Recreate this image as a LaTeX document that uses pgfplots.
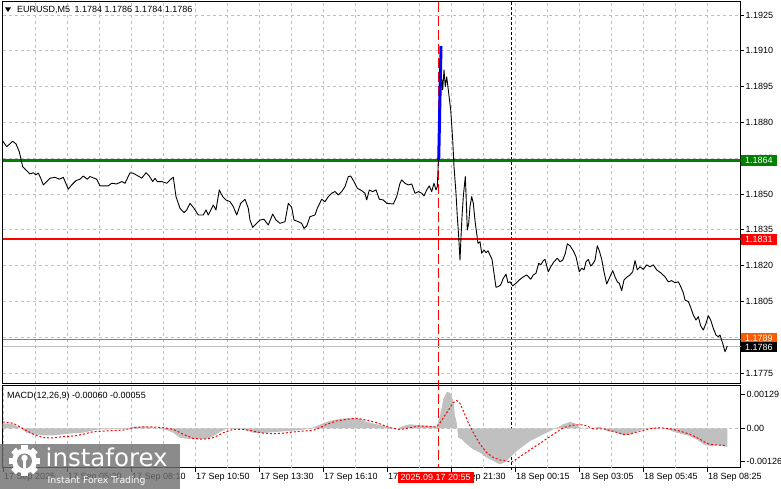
\documentclass[border=0pt]{standalone}
\usepackage{fontspec}
\setmainfont{Liberation Sans}
\newfontfamily\dejavu{DejaVu Sans}
\usepackage{pgfplots}
\pgfplotsset{compat=1.18}
\definecolor{gridc}{HTML}{C0C0C0}
\definecolor{lvgreen}{HTML}{008000}
\definecolor{lvorange}{HTML}{FF5A00}
\definecolor{histc}{HTML}{C0C0C0}
\definecolor{wm}{HTML}{6E6E6E}
\definecolor{wmin}{HTML}{8B8B8B}
\begin{document}
\begin{tikzpicture}[x=1pt,y=1pt]
\fill[white] (0,0) rectangle (781,489);
% event lines
\draw[red, line width=1pt, dash pattern=on 10pt off 4pt] (438,487) -- (438,21);
\draw[black, line width=1pt, dash pattern=on 3pt off 2pt] (511.7,487) -- (511.7,17);
\pgfplotsset{
  mtbase/.style={
    scale only axis, width=738pt, xmin=2.5, xmax=740.5,
    axis line style={black, line width=1pt},
    font=\fontsize{9}{10}\selectfont,
    /pgf/number format/assume math mode=true,
    grid style={gridc, dash pattern=on 3pt off 3pt, line width=0.8pt},
    tick style={black, line width=0.8pt},
    tick align=outside,
    scaled y ticks=false,
    ytick pos=right, yticklabel pos=right,
    yticklabel style={inner sep=0pt, xshift=2pt},
    major tick length=3pt,
  }
}
\begin{axis}[mtbase, at={(2.5pt,105pt)}, anchor=south west, height=382pt,
  ymin=1.1770389, ymax=1.1930447,
  xtick={35,67,...,707}, xticklabels={}, xmajorgrids, ymajorgrids,
  xtick style={draw=none},
  ytick={1.1775,1.1790,1.1805,1.1820,1.1835,1.1850,1.1865,1.1880,1.1895,1.1910,1.1925},
  yticklabels={1.1775,1.1790,1.1805,1.1820,1.1835,1.1850,1.1865,1.1880,1.1895,1.1910,1.1925},
]
\addplot[lvgreen, line width=2.3pt] coordinates {(2.5,1.1864) (740.5,1.1864)};
\addplot[red, line width=2.3pt] coordinates {(2.5,1.1831) (740.5,1.1831)};
\addplot[lvorange, line width=1pt] coordinates {(2.5,1.1789) (740.5,1.1789)};
\addplot[gridc, line width=1pt] coordinates {(2.5,1.1786) (740.5,1.1786)};
\addplot[black, line width=0.9pt, line join=round] coordinates {
(2.7,1.18723) (6.7,1.18698) (12.7,1.18721) (16,1.18710) (19.3,1.18677) (22.7,1.18614) (26,1.18601) (30,1.18584) (33.3,1.18589) (36,1.18580) (38.3,1.18588) (40.7,1.18566) (43.3,1.18538) (46.7,1.18552) (50,1.18566) (55,1.18570) (59.3,1.18562) (63.3,1.18570) (68.3,1.18520) (71.7,1.18538) (76,1.18556) (80,1.18562) (83.3,1.18575) (87.3,1.18562) (90,1.18573) (96.7,1.18562) (100,1.18534) (108.3,1.18534) (111.7,1.18545) (116.7,1.18542) (121.7,1.18552) (125,1.18545) (130,1.18589) (133.3,1.18587) (138.3,1.18575) (141.7,1.18566) (146,1.18589) (149.3,1.18575) (152.7,1.18552) (155,1.18566) (157.3,1.18552) (161.7,1.18552) (166.7,1.18545) (170,1.18559) (173.3,1.18570) (176,1.18489) (180,1.18440) (184,1.18422) (186.7,1.18433) (190,1.18461) (194,1.18440) (198.3,1.18412) (203.3,1.18412) (206,1.18433) (208.3,1.18412) (213.3,1.18454) (216,1.18433) (219.3,1.18517) (222.7,1.18489) (226,1.18475) (230,1.18468) (233.3,1.18447) (236.7,1.18412) (240.7,1.18461) (245,1.18478) (248.3,1.18440) (250,1.18391) (252.7,1.18360) (256.7,1.18377) (260,1.18391) (264,1.18394) (268.3,1.18370) (272.7,1.18416) (276,1.18391) (280,1.18377) (285,1.18384) (288.3,1.18461) (291.7,1.18444) (294,1.18391) (298.3,1.18384) (301.7,1.18377) (304,1.18356) (306.7,1.18366) (310,1.18405) (315,1.18412) (317.3,1.18440) (321.7,1.18478) (325,1.18468) (328.3,1.18489) (331.7,1.18503) (335,1.18510) (338.3,1.18496) (341.7,1.18510) (345,1.18531) (348.3,1.18573) (350.7,1.18575) (354,1.18552) (357.3,1.18524) (361.7,1.18514) (365,1.18503) (366.7,1.18475) (369.3,1.18517) (372.7,1.18510) (376,1.18517) (379.3,1.18478) (383.3,1.18475) (386.7,1.18461) (393.3,1.18458) (396.7,1.18489) (400,1.18545) (401.7,1.18559) (405,1.18545) (408.3,1.18538) (411.7,1.18542) (415,1.18503) (418.3,1.18510) (421.7,1.18503) (424,1.18492) (426.7,1.18517) (429.3,1.18534) (431.7,1.18510) (434,1.18545) (436,1.18517) (437.3,1.18531) (438,1.18601) (438.3,1.18642) (440,1.18908) (442,1.18978) (442.7,1.18936) (444,1.19020) (445.3,1.18950) (446.7,1.18991) (448.3,1.18936) (450.7,1.18852) (452.7,1.18726) (454,1.18614) (456,1.18503) (457.3,1.18405) (458.7,1.18321) (460,1.18223) (461,1.18321) (462,1.18405) (463.3,1.18489) (464.3,1.18531) (465.3,1.18573) (466,1.18503) (467.3,1.18349) (468.7,1.18377) (470,1.18447) (471.7,1.18489) (473.3,1.18461) (475.3,1.18377) (476.7,1.18335) (478,1.18293) (480,1.18300) (481.7,1.18252) (484,1.18265) (486,1.18254) (488,1.18262) (490,1.18244) (492,1.18226) (494,1.18168) (496,1.18109) (498.3,1.18112) (500.7,1.18119) (503.3,1.18147) (506,1.18164) (508,1.18128) (510,1.18132) (512.7,1.18115) (516,1.18126) (519.3,1.18140) (522.7,1.18151) (526.7,1.18161) (530.7,1.18143) (533.3,1.18161) (536,1.18168) (538.7,1.18210) (540.7,1.18203) (543.3,1.18221) (545,1.18226) (548.3,1.18174) (550.7,1.18195) (554,1.18216) (557.3,1.18231) (560,1.18216) (562.7,1.18223) (565.3,1.18251) (567.3,1.18291) (570,1.18283) (573.3,1.18262) (576,1.18237) (579.3,1.18174) (581.7,1.18189) (584,1.18182) (586,1.18216) (588.3,1.18226) (590.7,1.18198) (593.3,1.18210) (595,1.18223) (597.3,1.18283) (599.3,1.18262) (601.7,1.18226) (604,1.18174) (606.7,1.18123) (609.3,1.18147) (612.7,1.18179) (615,1.18153) (617.3,1.18132) (619.3,1.18126) (621.7,1.18095) (624,1.18140) (626.7,1.18151) (630,1.18161) (632.7,1.18174) (635,1.18221) (637.3,1.18182) (640,1.18195) (643.3,1.18184) (646.7,1.18203) (650,1.18195) (653.3,1.18203) (656.7,1.18182) (660.7,1.18170) (665,1.18153) (668.3,1.18132) (671.7,1.18137) (675,1.18128) (678.3,1.18132) (680.7,1.18112) (683.3,1.18086) (685,1.18056) (688.3,1.18049) (690.7,1.18025) (693.3,1.17993) (696,1.17972) (698.3,1.17986) (700.7,1.17947) (703.3,1.17930) (706,1.17958) (708.3,1.17990) (710.7,1.17972) (713.3,1.17937) (716,1.17909) (718.3,1.17902) (720,1.17909) (722.7,1.17874) (725,1.17839) (727.3,1.17863)
};
\addplot[blue, line width=3pt] coordinates {(438.7,1.18642) (441,1.19120)};
\coordinate (lg) at (axis cs:740.5,1.1864);
\coordinate (lr) at (axis cs:740.5,1.1831);
\coordinate (lo) at (axis cs:740.5,1.17895);
\coordinate (lb) at (axis cs:740.5,1.17858);
\end{axis}
\begin{axis}[mtbase, at={(2.5pt,21pt)}, anchor=south west, height=82pt,
  ymin=-0.0015076, ymax=0.0016221,
  xtick={3,67,131,195,259,323,387,451,515,579,643,707},
  xticklabels={17 Sep 2025,17 Sep 05:30,17 Sep 08:10,17 Sep 10:50,17 Sep 13:30,17 Sep 16:10,17 Sep 18:50,17 Sep 21:30,18 Sep 00:15,18 Sep 03:05,18 Sep 05:45,18 Sep 08:25},
  xticklabel style={anchor=north west, inner sep=0pt, xshift=1pt, yshift=-1pt},
  xtick pos=bottom, xmajorgrids,
  extra x ticks={35,99,163,227,291,355,419,483,547,611,675},
  extra x tick labels={},
  extra x tick style={grid=major, major tick length=0pt},
  ytick={-0.00126,0,0.00129},
  yticklabels={-0.00126,0.00,0.00129},
  major tick length=4pt,
]
\addplot[gridc, line width=0.8pt, dash pattern=on 3pt off 3pt] coordinates {(2.5,0) (740.5,0)};
\addplot[fill=histc, draw=none] coordinates {
(2.7,0.00020) (13.3,0.00016) (20,0.00003) (26.7,-0.00016) (33.3,-0.00022) (43.3,-0.00026) (53.3,-0.00026) (63.3,-0.00022) (73.3,-0.00018) (83.3,-0.00016) (93.3,-0.00007) (100,-0.00003) (110,-0.00003) (126.7,-0.00001) (133.3,0.00007) (146.7,0.00007) (156.7,0.00002) (166.7,-0.00006) (173.3,-0.00016) (180,-0.00035) (186.7,-0.00039) (196.7,-0.00041) (206.7,-0.00039) (213.3,-0.00029) (220,-0.00013) (226.7,-0.00001) (233.3,-0.00001) (243.3,-0.00003) (253.3,-0.00016) (260,-0.00018) (266.7,-0.00016) (276.7,-0.00013) (286.7,-0.00010) (300,-0.00006) (310,-0.00001) (316.7,0.00010) (326.7,0.00025) (333.3,0.00032) (343.3,0.00038) (353.3,0.00041) (360,0.00038) (366.7,0.00025) (376.7,0.00016) (386.7,0.00007) (396.7,-0.00001) (403.3,0.00010) (410,0.00016) (420,0.00012) (430,0.00010) (436.7,0.00007) (440,0.00048) (443.3,0.00111) (446.7,0.00139) (450,0.00137) (453.3,0.00105) (455,0.00048) (456.7,0.00022) (458.3,-0.00035) (461.7,-0.00041) (466.7,-0.00060) (473.3,-0.00080) (480,-0.00092) (486.7,-0.00111) (493.3,-0.00124) (500,-0.00137) (505,-0.00128) (510,-0.00111) (516.7,-0.00086) (523.3,-0.00067) (530,-0.00048) (540,-0.00029) (550,-0.00010) (556.7,0.00003) (563.3,0.00016) (570,0.00025) (575,0.00020) (580,0.00003) (590,-0.00001) (600,0.00007) (606.7,-0.00010) (616.7,-0.00016) (623.3,-0.00026) (630,-0.00022) (640,-0.00006) (650,0.00003) (656.7,0.00003) (666.7,-0.00003) (676.7,-0.00016) (683.3,-0.00022) (690,-0.00029) (696.7,-0.00041) (703.3,-0.00060) (710,-0.00067) (716.7,-0.00064) (723.3,-0.00067) (727.3,-0.00070)
} \closedcycle;
\addplot[red, line width=1pt, dash pattern=on 2pt off 2pt] coordinates {
(2.7,0.00025) (13.3,0.00020) (23.3,-0.00001) (33.3,-0.00022) (43.3,-0.00035) (53.3,-0.00036) (63.3,-0.00031) (73.3,-0.00029) (83.3,-0.00022) (93.3,-0.00012) (103.3,-0.00010) (113.3,-0.00008) (123.3,-0.00006) (133.3,0.00003) (143.3,0.00006) (153.3,0.00006) (163.3,0.00003) (173.3,-0.00003) (183.3,-0.00022) (193.3,-0.00038) (203.3,-0.00041) (213.3,-0.00035) (223.3,-0.00016) (233.3,-0.00003) (243.3,-0.00003) (253.3,-0.00010) (263.3,-0.00018) (273.3,-0.00020) (283.3,-0.00018) (293.3,-0.00013) (303.3,-0.00010) (313.3,-0.00007) (320,0.00003) (326.7,0.00016) (336.7,0.00029) (346.7,0.00035) (356.7,0.00039) (366.7,0.00032) (376.7,0.00022) (386.7,0.00008) (390,0.00003) (400,-0.00004) (410,0.00003) (420,0.00010) (430,0.00007) (436.7,0.00006) (440,0.00022) (446.7,0.00060) (453.3,0.00099) (456.7,0.00107) (460,0.00096) (463.3,0.00067) (468.3,0.00022) (473.3,-0.00016) (480,-0.00060) (486.7,-0.00092) (493.3,-0.00111) (500,-0.00120) (506.7,-0.00124) (511.7,-0.00128) (515,-0.00120) (523.3,-0.00099) (533.3,-0.00073) (543.3,-0.00048) (553.3,-0.00022) (563.3,0.00003) (571.7,0.00012) (580,0.00015) (586.7,0.00010) (593.3,-0.00001) (603.3,-0.00001) (613.3,-0.00011) (623.3,-0.00022) (630,-0.00022) (640,-0.00010) (650,-0.00001) (660,0.00003) (670,-0.00001) (680,-0.00010) (690,-0.00022) (700,-0.00041) (706.7,-0.00057) (713.3,-0.00062) (723.3,-0.00064) (725,-0.00066)
};
\end{axis}
% right-hand level labels
\tikzset{lvl/.style={anchor=west, text=white, inner xsep=4pt, inner ysep=0pt, minimum height=10.5pt, font=\fontsize{9}{10}\selectfont}}
\node[lvl, fill=lvgreen] at ([xshift=0.5pt]lg) {1.1864};
\node[lvl, fill=red] at ([xshift=0.5pt]lr) {1.1831};
\node[lvl, fill=lvorange] at ([xshift=0.5pt]lo) {1.1789};
\node[lvl, fill=black] at ([xshift=0.5pt]lb) {1.1786};
% date box
\node[anchor=west, fill=red, text=white, inner xsep=3pt, inner ysep=0pt, minimum height=10.5pt, font=\fontsize{9}{10}\selectfont] at (397.3,11.5) {2025.09.17 20:55};
% title
\fill[black] (5,481.5) -- (11,481.5) -- (8,477) -- cycle;
\node[anchor=west, inner sep=0pt, font=\fontsize{9}{10}\selectfont] at (17,478.8) {EURUSD,M5\enspace 1.1784 1.1786 1.1784 1.1786};
\node[anchor=west, inner sep=0pt, font=\fontsize{9}{10}\selectfont] at (7,93) {MACD(12,26,9) -0.00060 -0.00055};
% watermark
\fill[wm, opacity=0.8] (0,0) rectangle (180,45);
\begin{scope}
\foreach \a in {0,45,...,315} {\fill[white, rotate around={\a:(24.5,28)}] (21.3,28) rectangle (27.7,43.5);}
\fill[white] (24.5,28) circle (12.5);
\fill[wmin] (24.5,28) circle (7.5);
\fill[white] (24.5,31) circle (3.2);
\fill[white] (22.8,16) rectangle (26.2,30);
\end{scope}
\node[anchor=base west, inner sep=0pt, text=white, font={\dejavu\fontsize{24.5}{25}\selectfont}] at (45.5,22.3) {instaforex};
\node[anchor=base west, inner sep=0pt, text=white, font={\dejavu\fontsize{9.3}{10}\selectfont}] at (47.5,5) {Instant Forex Trading};
\pgfresetboundingbox
\useasboundingbox (0,0) rectangle (781,489);
\end{tikzpicture}
\end{document}
